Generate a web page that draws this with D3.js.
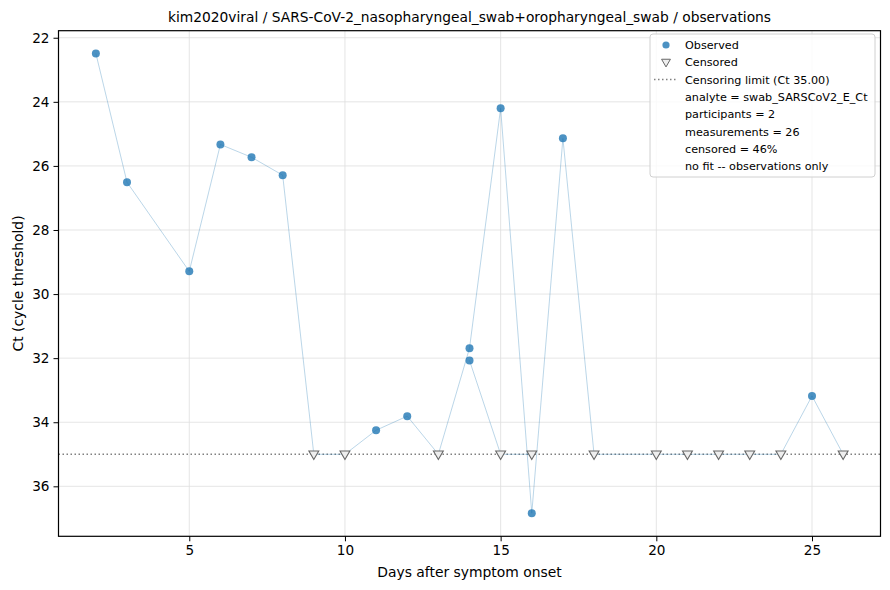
<!DOCTYPE html>
<html>
<head>
<meta charset="utf-8">
<script src="https://cdn.jsdelivr.net/npm/d3@7"></script>
<style>
  body { margin: 0; background: #fff; }
  svg { font-family: "DejaVu Sans", sans-serif; }
</style>
</head>
<body>
<div id="chart"></div>
<script>
// participant A
const daysA = [2, 3, 5, 6, 7, 8, 9, 10, 11, 12, 13, 14, 15, 16, 17, 18, 20, 21, 22, 23, 24, 25, 26];
const ctA = [22.49, 26.51, 29.29, 25.33, 25.73, 26.29, 35, 35, 34.25, 33.81, 35, 31.69, 24.2, 36.84, 25.14, 35, 35, 35, 35, 35, 35, 33.18, 35];
const censA = [0, 0, 0, 0, 0, 0, 1, 1, 0, 0, 1, 0, 0, 0, 0, 1, 1, 1, 1, 1, 1, 0, 1];
// participant B
const daysB = [14, 15, 16];
const ctB = [32.07, 35, 35];
const censB = [0, 1, 1];

const censorLimit = 35;
const xTicks = [5, 10, 15, 20, 25];
const yTicks = [22, 24, 26, 28, 30, 32, 34, 36];
const legendLines = [
    "analyte = swab_SARSCoV2_E_Ct",
    "participants = 2",
    "measurements = 26",
    "censored = 46%",
    "no fit -- observations only"
];

const width = 890, height = 590;
const plotLeft = 58.5, plotRight = 880.5, plotTop = 30.7, plotBottom = 536.3;

const svg = d3.select("#chart").append("svg")
    .attr("width", width)
    .attr("height", height);

const x = d3.scaleLinear().domain([0.8, 27.2]).range([plotLeft, plotRight]);
const y = d3.scaleLinear().domain([21.78, 37.56]).range([plotTop, plotBottom]);

function toPoints(days, ct, cens) {
    return days.map((d, i) => ({day: d, ct: ct[i], censored: cens[i] === 1}));
}
const participants = [toPoints(daysA, ctA, censA), toPoints(daysB, ctB, censB)];
const allPoints = participants.flat();

// grid
const grid = svg.append("g").attr("stroke", "#dedede").attr("stroke-width", 0.8);
grid.selectAll(".gx").data(xTicks).enter().append("line")
    .attr("x1", d => x(d)).attr("x2", d => x(d))
    .attr("y1", plotTop).attr("y2", plotBottom);
grid.selectAll(".gy").data(yTicks).enter().append("line")
    .attr("x1", plotLeft).attr("x2", plotRight)
    .attr("y1", d => y(d)).attr("y2", d => y(d));

// censoring limit
svg.append("line")
    .attr("x1", plotLeft).attr("x2", plotRight)
    .attr("y1", y(censorLimit)).attr("y2", y(censorLimit))
    .attr("stroke", "#808080")
    .attr("stroke-width", 1.5)
    .attr("stroke-dasharray", "1.5,2.5");

// per participant lines
const line = d3.line().x(d => x(d.day)).y(d => y(d.ct));
svg.append("g").selectAll("path")
    .data(participants)
    .enter()
    .append("path")
    .attr("d", line)
    .attr("fill", "none")
    .attr("stroke", "#1f77b4")
    .attr("stroke-opacity", 0.3)
    .attr("stroke-width", 1);

// observed
svg.append("g").selectAll("circle")
    .data(allPoints.filter(d => !d.censored))
    .enter()
    .append("circle")
    .attr("cx", d => x(d.day))
    .attr("cy", d => y(d.ct))
    .attr("r", 4)
    .attr("fill", "#1f77b4")
    .attr("fill-opacity", 0.8);

// censored
const tri = d3.symbol().type(d3.symbolTriangle).size(42);
svg.append("g").selectAll("path")
    .data(allPoints.filter(d => d.censored))
    .enter()
    .append("path")
    .attr("d", tri)
    .attr("transform", d => "translate(" + x(d.day) + "," + (y(d.ct) - 0.5) + ") rotate(180)")
    .attr("fill", "#eeeeee")
    .attr("stroke", "#666666")
    .attr("stroke-width", 1.1);

// frame
svg.append("rect")
    .attr("x", plotLeft).attr("y", plotTop)
    .attr("width", plotRight - plotLeft).attr("height", plotBottom - plotTop)
    .attr("fill", "none")
    .attr("stroke", "#000")
    .attr("stroke-width", 1.2);

// axes
const xAxis = svg.append("g")
    .attr("transform", "translate(0," + plotBottom + ")")
    .call(d3.axisBottom(x).tickValues(xTicks).tickSize(5).tickPadding(4));
const yAxis = svg.append("g")
    .attr("transform", "translate(" + plotLeft + ",0)")
    .call(d3.axisLeft(y).tickValues(yTicks).tickSize(5).tickPadding(4));
[xAxis, yAxis].forEach(a => {
    a.select(".domain").remove();
    a.selectAll("text").attr("font-size", 13.6).attr("font-family", "DejaVu Sans").attr("fill", "#000");
    a.selectAll("line").attr("stroke", "#000").attr("stroke-width", 1);
});

// labels
svg.append("text")
    .attr("x", (plotLeft + plotRight) / 2).attr("y", 22)
    .attr("text-anchor", "middle")
    .attr("font-size", 13.8)
    .text("kim2020viral / SARS-CoV-2_nasopharyngeal_swab+oropharyngeal_swab / observations");
svg.append("text")
    .attr("x", (plotLeft + plotRight) / 2).attr("y", 577)
    .attr("text-anchor", "middle")
    .attr("font-size", 13.9)
    .text("Days after symptom onset");
svg.append("text")
    .attr("transform", "translate(23," + ((plotTop + plotBottom) / 2) + ") rotate(-90)")
    .attr("text-anchor", "middle")
    .attr("font-size", 13.9)
    .text("Ct (cycle threshold)");

// legend
const lg = svg.append("g").attr("transform", "translate(650,34)");
lg.append("rect")
    .attr("width", 225).attr("height", 143)
    .attr("rx", 3)
    .attr("fill", "#fff").attr("fill-opacity", 0.8)
    .attr("stroke", "#d0d0d0");
const rowY = i => 11 + i * 17.3;
const textX = 35, markX = 16;
lg.append("circle")
    .attr("cx", markX).attr("cy", rowY(0)).attr("r", 3.6)
    .attr("fill", "#1f77b4").attr("fill-opacity", 0.8);
lg.append("path")
    .attr("d", d3.symbol().type(d3.symbolTriangle).size(34))
    .attr("transform", "translate(" + markX + "," + (rowY(1) - 0.5) + ") rotate(180)")
    .attr("fill", "#eeeeee").attr("stroke", "#666666");
lg.append("line")
    .attr("x1", 4).attr("x2", 28)
    .attr("y1", rowY(2)).attr("y2", rowY(2))
    .attr("stroke", "#808080").attr("stroke-width", 1.5)
    .attr("stroke-dasharray", "1.5,2.5");
const labels = ["Observed", "Censored", "Censoring limit (Ct " + censorLimit.toFixed(2) + ")"].concat(legendLines);
lg.selectAll(".lt").data(labels).enter().append("text")
    .attr("x", textX)
    .attr("y", (d, i) => rowY(i) + 4)
    .attr("font-size", 11.2)
    .text(d => d);
</script>
</body>
</html>
